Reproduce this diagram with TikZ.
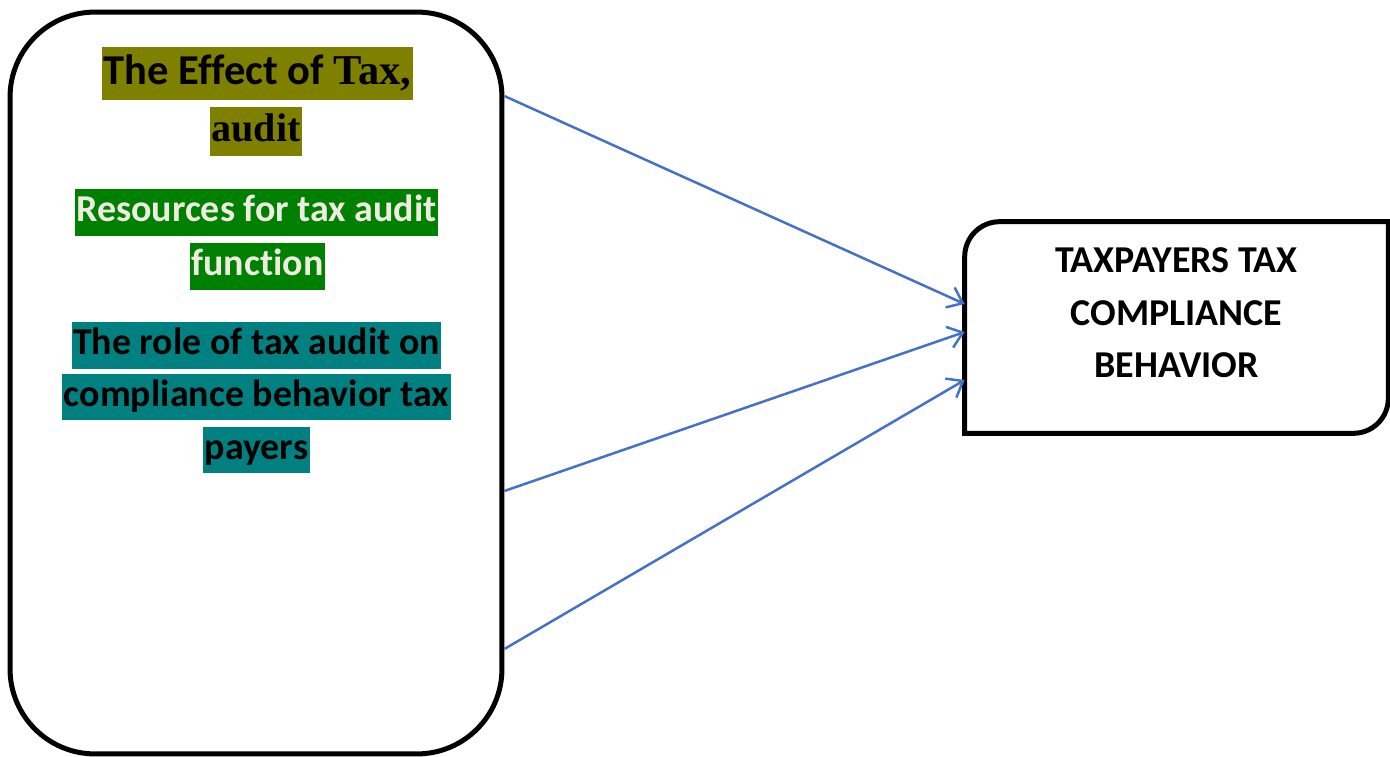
\documentclass[tikz,border=0pt]{standalone}
\usepackage{fontspec}
\setmainfont[Ligatures=NoCommon]{Carlito}
\newfontfamily\timesfont{Liberation Serif}
\usetikzlibrary{arrows.meta}
\definecolor{olivehl}{HTML}{808000}
\definecolor{greenhl}{HTML}{008000}
\definecolor{tealhl}{HTML}{008080}
\definecolor{paletext}{HTML}{EEECE1}
\definecolor{linkblue}{HTML}{4472C4}
\begin{document}
\begin{tikzpicture}[x=0.02cm, y=-0.02cm]
    \tikzset{frame/.style={draw, line width=0.1cm}}
    \tikzset{hl/.style={inner xsep=0.03cm, inner ysep=0.03cm, text height=0.62cm, text depth=0.26cm, font=\fontsize{21.6}{29}\selectfont\bfseries}}
    \tikzset{boxtext/.style={align=center, inner sep=0pt, font=\fontsize{21.6}{29.9}\selectfont\bfseries}}
    \tikzset{link/.style={draw=linkblue, line width=0.05cm, -{Straight Barb[length=0.28cm, width=0.44cm]}}}
    \useasboundingbox (0,0) rectangle (1390,757);

    % left box with the three factors
    \node[frame, rounded corners=1.7cm, minimum width=9.84cm, minimum height=14.84cm] (factors) at (256,383) {};

    \node[hl, fill=olivehl, text height=0.72cm, text depth=0.28cm, font=\fontsize{24.2}{29}\selectfont\bfseries] (effect1) at (257.5,73.5) {The Effect of {\timesfont Tax,}};
    \node[hl, fill=olivehl, text height=0.66cm, text depth=0.26cm, font=\fontsize{22.8}{29}\selectfont\bfseries] (effect2) at (256,131.5) {\timesfont audit};

    \node[hl, fill=greenhl, text=paletext] (resources1) at (256.5,212.3) {Resources for tax audit};
    \node[hl, fill=greenhl, text=paletext] (resources2) at (257.5,266.3) {function};

    \node[hl, fill=tealhl] (role1) at (256.5,345.5) {The role of tax audit on};
    \node[hl, fill=tealhl] (role2) at (256.5,397) {compliance behavior tax};
    \node[hl, fill=tealhl] (role3) at (256.5,450) {payers};

    % right box
    \node[minimum width=8.46cm, minimum height=4.22cm] (compliance) at (1176.5,327.5) {};
    \draw[frame] (compliance.north east) -- ([yshift=0.7cm]compliance.south east)
        arc[start angle=0, end angle=-90, radius=0.7cm] -- (compliance.south west)
        -- ([yshift=-0.7cm]compliance.north west)
        arc[start angle=180, end angle=90, radius=0.7cm] -- cycle;
    \node[boxtext] (behavior) at ([yshift=0.29cm]compliance.center) {TAXPAYERS TAX\\COMPLIANCE\\BEHAVIOR};

    \draw[link] ([yshift=5.74cm]factors.east) -- ([yshift=0.47cm]compliance.west);
    \draw[link] ([yshift=-2.16cm]factors.east) -- ([yshift=-0.09cm]compliance.west);
    \draw[link] ([yshift=-5.32cm]factors.east) -- ([yshift=-1.05cm]compliance.west);
\end{tikzpicture}
\end{document}
